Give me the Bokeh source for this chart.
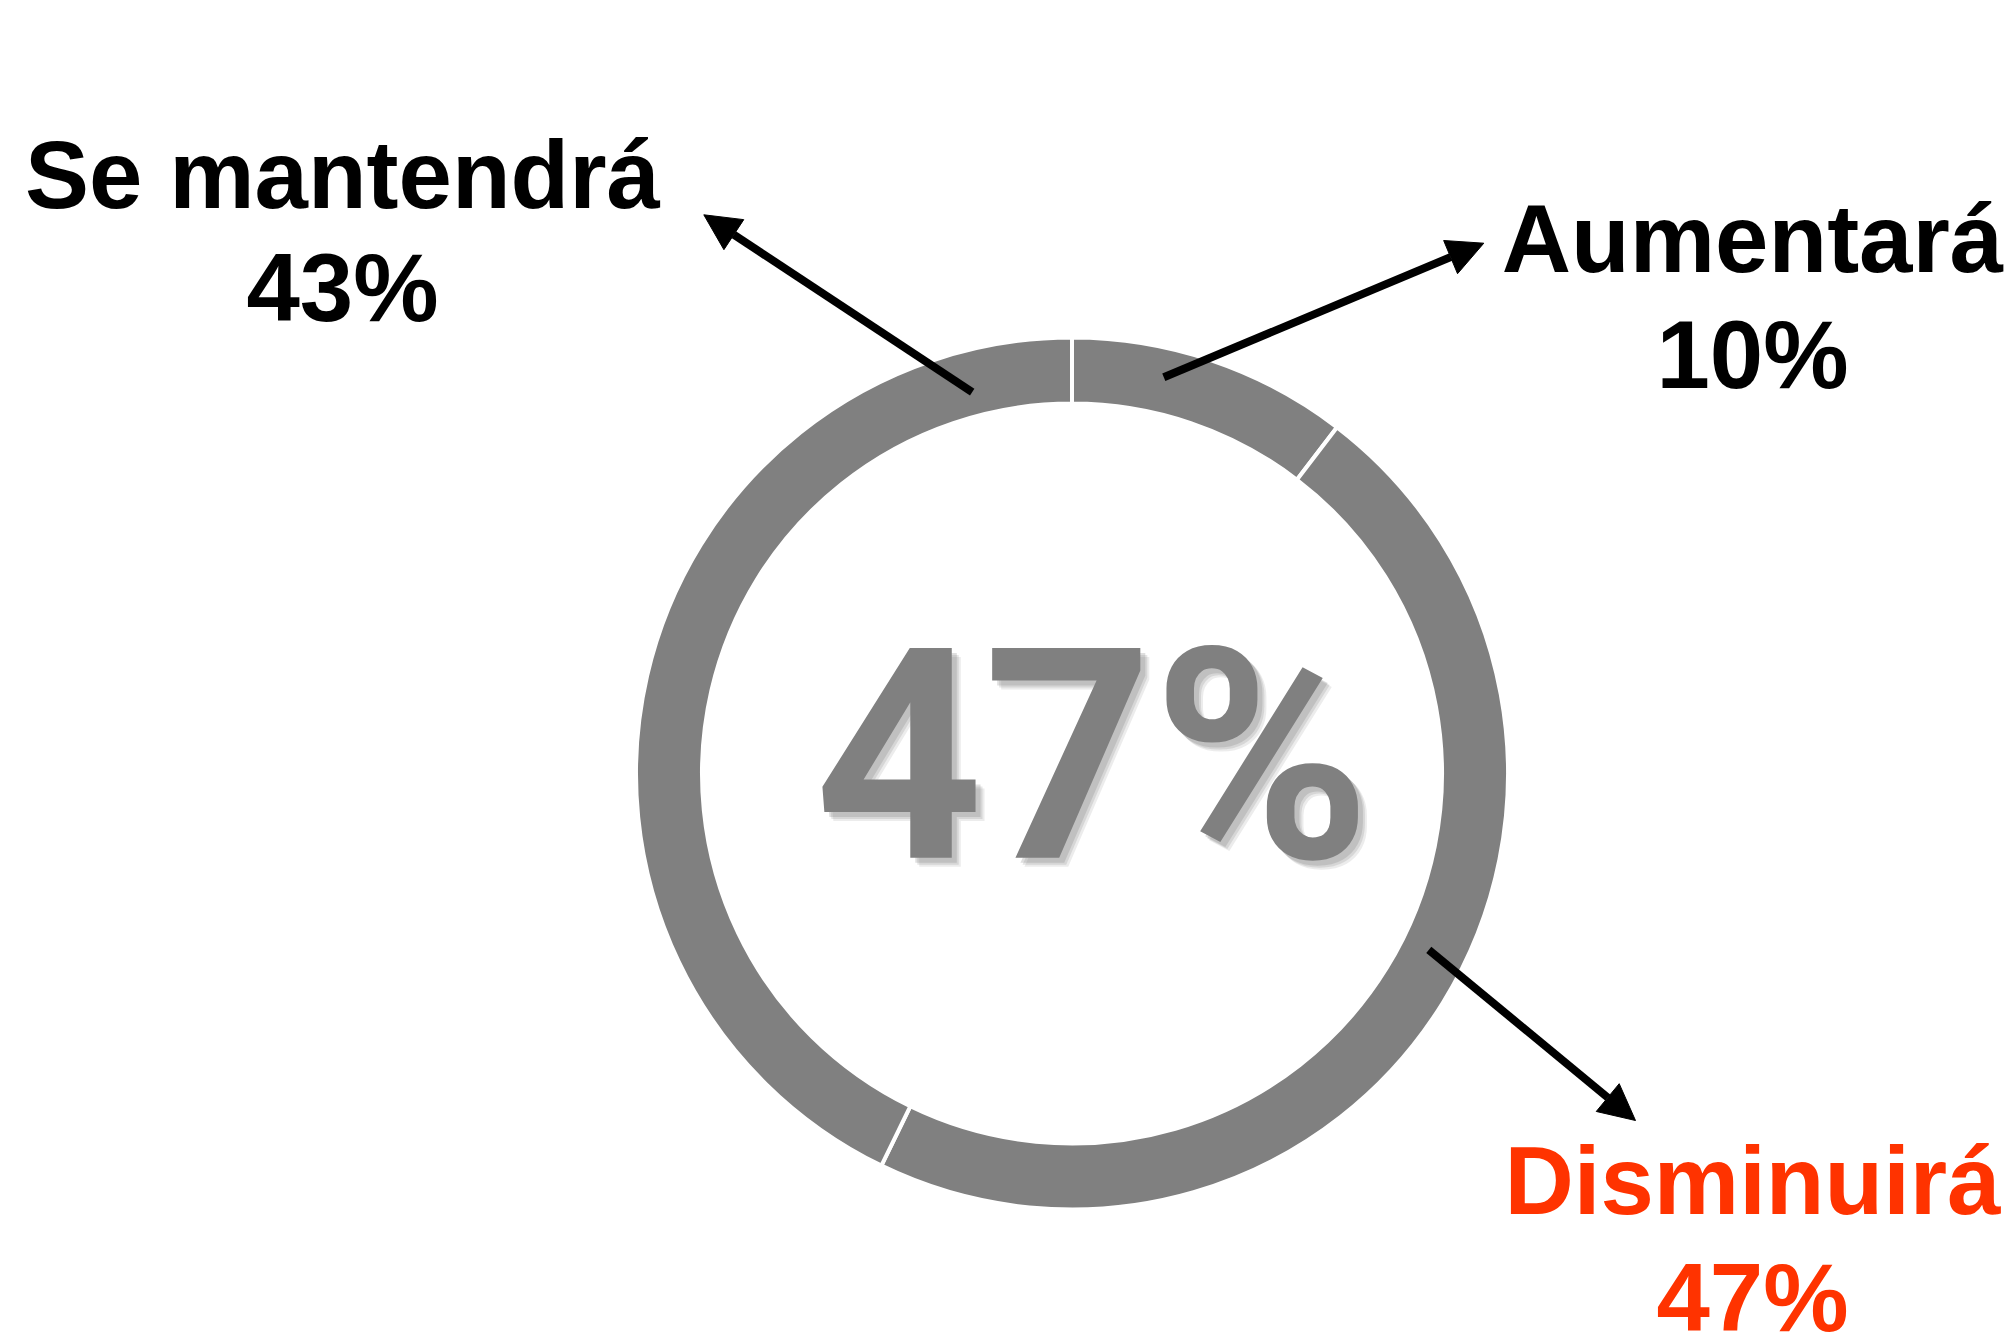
from bokeh.plotting import figure
from bokeh.models import Range1d, Arrow, NormalHead, ColumnDataSource
from bokeh.core.properties import value
from bokeh.embed import file_html
from bokeh.resources import INLINE
import math

# ---- data ----
categories = ["Aumentará", "Disminuirá", "Se mantendrá"]
shares = [10.4, 46.8, 42.8]          # share of the ring, clockwise from top
pct_labels = ["10%", "47%", "43%"]
label_colors = ["#000000", "#FF3300", "#000000"]
center_label = "47%"

# ---- layout ----
W, H = 2015, 1334


def Y(y):
    return H - y


def TY(y, size):
    # text baseline correction (glyph baseline drawn ~0.355 em below anchor)
    return H - (y - 0.355 * size)


p = figure(width=W, height=H, x_range=Range1d(0, W), y_range=Range1d(0, H),
           output_backend="svg", toolbar_location=None, min_border=0,
           x_axis_type=None, y_axis_type=None)
p.grid.visible = False
p.outline_line_color = None
p.background_fill_color = "white"
p.border_fill_color = "white"

cx, cy = 1071.5, Y(773)

starts, ends = [], []
a = 90.0
for s in shares:
    sweep = s / 100.0 * 360.0
    ends.append(math.radians(a))
    starts.append(math.radians(a - sweep))
    a -= sweep

src = ColumnDataSource(dict(cat=categories, start=starts, end=ends))
p.annular_wedge(x=cx, y=cy, inner_radius=370, outer_radius=436,
                start_angle="start", end_angle="end", source=src,
                fill_color="#808080", line_color="white", line_width=4)

# center text with soft shadow
cfont = value("Roboto")
csize = 295
tx, ty = 1092, TY(861, csize)
for off, al in [(9, 0.15), (7, 0.2), (5, 0.25)]:
    p.text(x=[tx + off], y=[ty - off], text=[center_label], text_font=cfont,
           text_font_style="bold", text_font_size=f"{csize}px", text_color="#808080",
           text_alpha=al, text_align="center", text_baseline="alphabetic")
p.text(x=[tx], y=[ty], text=[center_label], text_font=cfont,
       text_font_style="bold", text_font_size=f"{csize}px", text_color="#808080",
       text_align="center", text_baseline="alphabetic")

# labels
lab_pos = {"Aumentará": (1752, 272, 388),
           "Disminuirá": (1752, 1214, 1331),
           "Se mantendrá": (342, 208, 321)}
lfont = value("Liberation Sans")
lsize = 96
for cat, pl, col in zip(categories, pct_labels, label_colors):
    x, y1, y2 = lab_pos[cat]
    p.text(x=[x, x], y=[TY(y1, lsize), TY(y2, lsize)], text=[cat, pl], text_font=lfont,
           text_font_style="bold", text_font_size=f"{lsize}px", text_color=col,
           text_align="center", text_baseline="alphabetic")

# arrows
arrows = [((971.7, 391.7), (703.3, 214.3)),
          ((1163.3, 376.7), (1483.3, 242.7)),
          ((1428.3, 949.3), (1635.0, 1120.0))]
for (x0, y0), (x1, y1) in arrows:
    p.add_layout(Arrow(end=NormalHead(size=36, fill_color="black", line_color="black"),
                       x_start=x0, y_start=Y(y0), x_end=x1, y_end=Y(y1),
                       line_width=8, line_color="black"))

open("out.html", "w").write(file_html(p, INLINE))
